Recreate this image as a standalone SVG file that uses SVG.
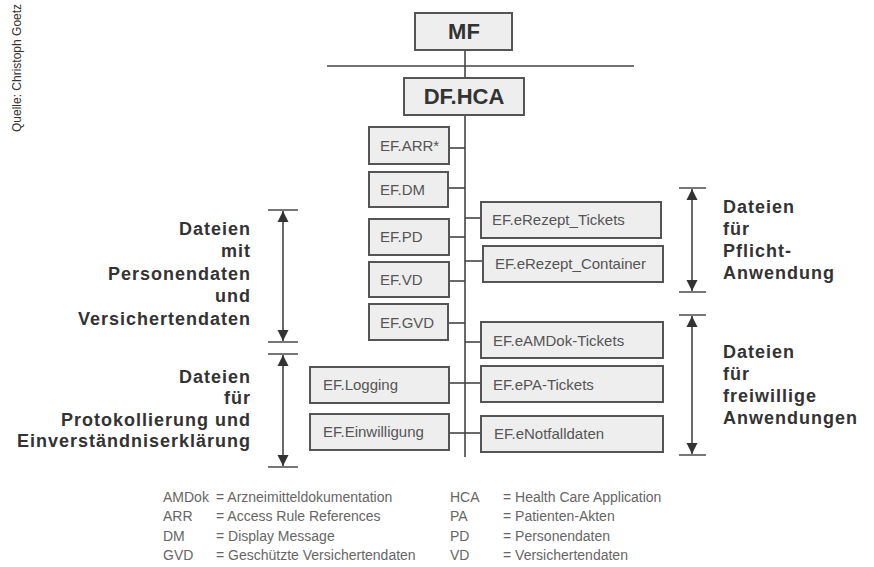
<svg xmlns="http://www.w3.org/2000/svg" width="874" height="567" viewBox="0 0 874 567">
<defs>
<style>
.box{fill:#eeeeee;stroke:#555;stroke-width:2}
.bt{font-family:"Liberation Sans",Arial,sans-serif;font-size:15px;fill:#555}
.big{font-family:"Liberation Sans",Arial,sans-serif;font-size:22px;font-weight:bold;fill:#333;text-anchor:middle}
.lbl{font-family:"Liberation Sans",Arial,sans-serif;font-size:18px;font-weight:bold;fill:#333;letter-spacing:1px}
.leg{font-family:"Liberation Sans",Arial,sans-serif;font-size:14px;fill:#666}
.ln{stroke:#444;stroke-width:1.6;fill:none}
.tick{stroke:#555;stroke-width:1.6}
.arr{stroke:#444;stroke-width:1.6;fill:none;marker-start:url(#ah);marker-end:url(#ah)}
</style>
<marker id="ah" viewBox="0 0 10 10" refX="10" refY="5" markerWidth="7" markerHeight="7" markerUnits="strokeWidth" orient="auto-start-reverse">
<path d="M0,0 L10,5 L0,10 z" fill="#333"/>
</marker>
</defs>
<rect width="874" height="567" fill="#fff"/>

<text transform="translate(21,132) rotate(-90)" font-family="Liberation Sans,Arial,sans-serif" font-size="12" fill="#333">Quelle: Christoph Goetz</text>

<g id="connectors">
<line class="ln" x1="327" y1="66" x2="634" y2="66"/>
<line class="ln" x1="465" y1="50" x2="465" y2="78"/>
<line class="ln" x1="465" y1="115" x2="465" y2="457"/>
<line class="ln" x1="449" y1="148" x2="465" y2="148"/>
<line class="ln" x1="449" y1="188" x2="465" y2="188"/>
<line class="ln" x1="449" y1="237" x2="465" y2="237"/>
<line class="ln" x1="449" y1="281" x2="465" y2="281"/>
<line class="ln" x1="449" y1="323" x2="465" y2="323"/>
<line class="ln" x1="449" y1="383" x2="481" y2="383"/>
<line class="ln" x1="449" y1="433" x2="481" y2="433"/>
<line class="ln" x1="465" y1="218" x2="481" y2="218"/>
<line class="ln" x1="465" y1="261" x2="483" y2="261"/>
<line class="ln" x1="465" y1="342" x2="481" y2="342"/>
</g>

<g id="MF"><rect class="box" x="415" y="13" width="97" height="37"/><text class="big" x="464" y="39">MF</text></g>
<g id="DF.HCA"><rect class="box" x="404" y="78" width="120" height="37"/><text class="big" x="464" y="104">DF.HCA</text></g>

<g id="EF.ARR"><rect class="box" x="369" y="127" width="80" height="37"/><text class="bt" x="380" y="151">EF.ARR*</text></g>
<g id="EF.DM"><rect class="box" x="369" y="172" width="79" height="35"/><text class="bt" x="380" y="195">EF.DM</text></g>
<g id="EF.PD"><rect class="box" x="369" y="219" width="80" height="36"/><text class="bt" x="380" y="242">EF.PD</text></g>
<g id="EF.VD"><rect class="box" x="369" y="262" width="80" height="35"/><text class="bt" x="380" y="285">EF.VD</text></g>
<g id="EF.GVD"><rect class="box" x="369" y="304" width="79" height="36"/><text class="bt" x="380" y="328">EF.GVD</text></g>
<g id="EF.Logging"><rect class="box" x="310" y="367" width="139" height="36"/><text class="bt" x="323" y="390">EF.Logging</text></g>
<g id="EF.Einwilligung"><rect class="box" x="310" y="414" width="139" height="36"/><text class="bt" x="323" y="437">EF.Einwilligung</text></g>

<g id="EF.eRezept_Tickets"><rect class="box" x="481" y="202" width="180" height="36"/><text class="bt" x="492" y="225">EF.eRezept_Tickets</text></g>
<g id="EF.eRezept_Container"><rect class="box" x="483" y="246" width="180" height="36"/><text class="bt" x="495" y="269">EF.eRezept_Container</text></g>
<g id="EF.eAMDok-Tickets"><rect class="box" x="481" y="322" width="182" height="36"/><text class="bt" x="493" y="346">EF.eAMDok-Tickets</text></g>
<g id="EF.ePA-Tickets"><rect class="box" x="481" y="366" width="182" height="36"/><text class="bt" x="493" y="390">EF.ePA-Tickets</text></g>
<g id="EF.eNotfalldaten"><rect class="box" x="481" y="416" width="182" height="36"/><text class="bt" x="494" y="439">EF.eNotfalldaten</text></g>

<g id="span-left-1">
<line class="tick" x1="268" y1="210" x2="298" y2="210"/><line class="tick" x1="268" y1="342" x2="298" y2="342"/>
<line class="arr" x1="283" y1="211" x2="283" y2="341"/>
<text class="lbl" text-anchor="end" x="251" y="235">Dateien</text>
<text class="lbl" text-anchor="end" x="251" y="257">mit</text>
<text class="lbl" text-anchor="end" x="251" y="280">Personendaten</text>
<text class="lbl" text-anchor="end" x="251" y="302">und</text>
<text class="lbl" text-anchor="end" x="251" y="325">Versichertendaten</text>
</g>
<g id="span-left-2">
<line class="tick" x1="268" y1="354" x2="298" y2="354"/><line class="tick" x1="268" y1="467" x2="298" y2="467"/>
<line class="arr" x1="283" y1="355" x2="283" y2="466"/>
<text class="lbl" text-anchor="end" x="251" y="383">Dateien</text>
<text class="lbl" text-anchor="end" x="251" y="404">für</text>
<text class="lbl" text-anchor="end" x="251" y="426">Protokollierung und</text>
<text class="lbl" text-anchor="end" x="251" y="447">Einverständniserklärung</text>
</g>
<g id="span-right-1">
<line class="tick" x1="679" y1="188" x2="706" y2="188"/><line class="tick" x1="679" y1="292" x2="706" y2="292"/>
<line class="arr" x1="692" y1="189" x2="692" y2="291"/>
<text class="lbl" x="723" y="213">Dateien</text>
<text class="lbl" x="723" y="235">für</text>
<text class="lbl" x="723" y="257">Pflicht-</text>
<text class="lbl" x="723" y="279">Anwendung</text>
</g>
<g id="span-right-2">
<line class="tick" x1="679" y1="315" x2="706" y2="315"/><line class="tick" x1="679" y1="455" x2="706" y2="455"/>
<line class="arr" x1="692" y1="316" x2="692" y2="454"/>
<text class="lbl" x="723" y="358">Dateien</text>
<text class="lbl" x="723" y="380">für</text>
<text class="lbl" x="723" y="402">freiwillige</text>
<text class="lbl" x="723" y="424">Anwendungen</text>
</g>

<g id="legend">
<text class="leg" x="163" y="502">AMDok</text><text class="leg" x="216" y="502">= Arzneimitteldokumentation</text>
<text class="leg" x="163" y="521">ARR</text><text class="leg" x="216" y="521">= Access Rule References</text>
<text class="leg" x="163" y="541">DM</text><text class="leg" x="216" y="541">= Display Message</text>
<text class="leg" x="163" y="560">GVD</text><text class="leg" x="216" y="560">= Geschützte Versichertendaten</text>
<text class="leg" x="450" y="502">HCA</text><text class="leg" x="503" y="502">= Health Care Application</text>
<text class="leg" x="450" y="521">PA</text><text class="leg" x="503" y="521">= Patienten-Akten</text>
<text class="leg" x="450" y="541">PD</text><text class="leg" x="503" y="541">= Personendaten</text>
<text class="leg" x="450" y="560">VD</text><text class="leg" x="503" y="560">= Versichertendaten</text>
</g>
</svg>
